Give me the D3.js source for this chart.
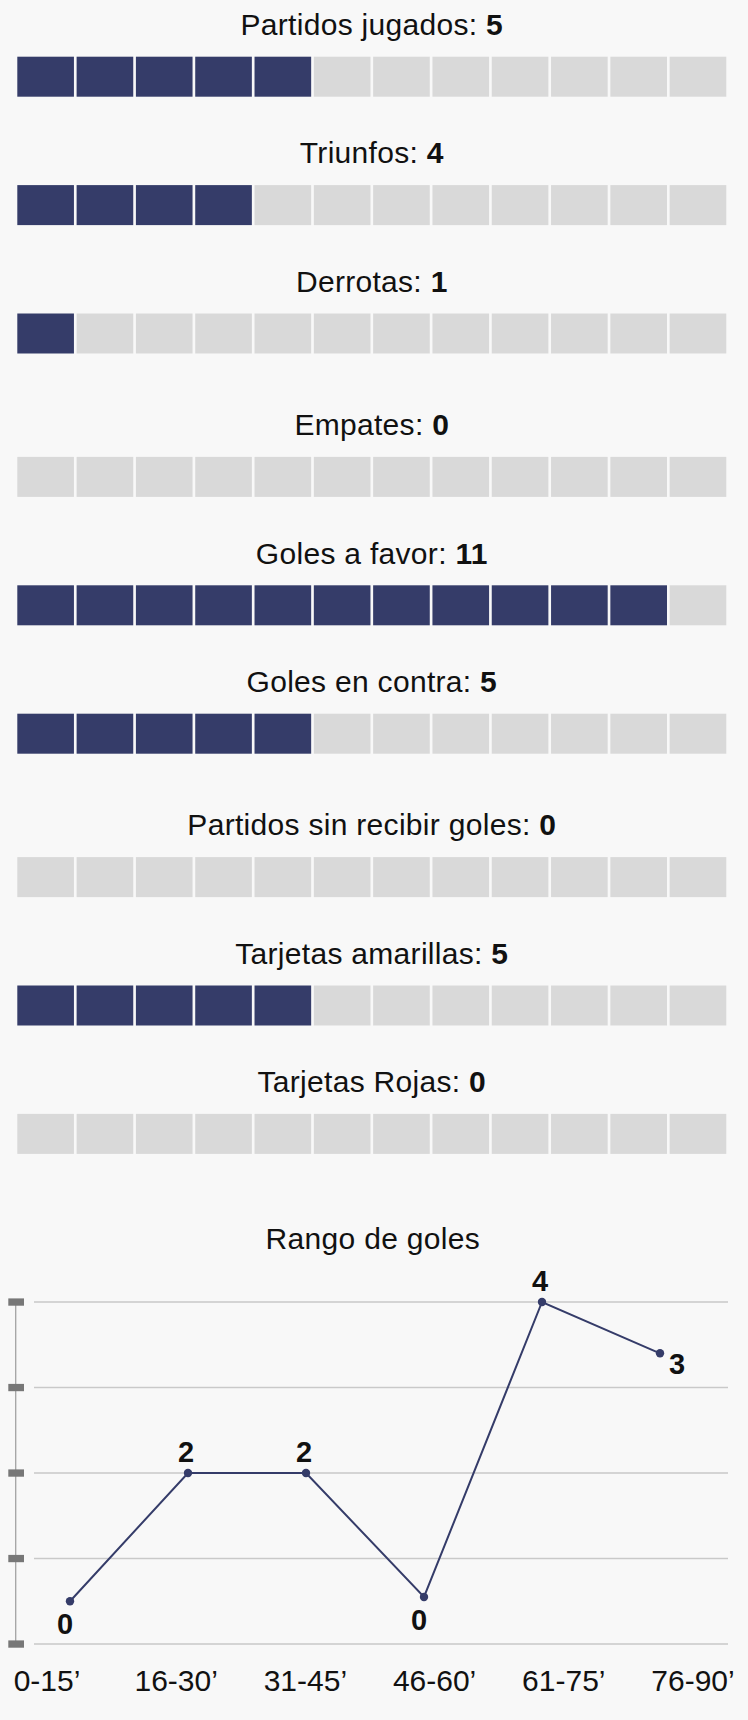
<!DOCTYPE html>
<html>
<head>
<meta charset="utf-8">
<title>Estadísticas</title>
<script src="https://cdnjs.cloudflare.com/ajax/libs/d3/7.8.5/d3.min.js"></script>
<style>
  body {
    margin: 0;
    background: #f8f8f8;
    font-family: "Liberation Sans", Arial, sans-serif;
  }
  svg text {
    fill: #111;
  }
</style>
</head>
<body>
<div id="chart"></div>
<script>
  // stat rows
  var statLabels = ["Partidos jugados", "Triunfos", "Derrotas", "Empates", "Goles a favor",
    "Goles en contra", "Partidos sin recibir goles", "Tarjetas amarillas", "Tarjetas Rojas"];
  var statValues = [5, 4, 1, 0, 11, 5, 0, 5, 0];
  var maxCells = 12;

  // goals per time range
  var ranges = ["0-15\u2019", "16-30\u2019", "31-45\u2019", "46-60\u2019", "61-75\u2019", "76-90\u2019"];
  var goals = [0, 2, 2, 0, 4, 3];
  // height of each dot on the 0-4 grid as drawn in the source (zeros float above the floor)
  var dotLevels = [0.5, 2, 2, 0.55, 4, 3.4];
  var gridTicks = [0, 1, 2, 3, 4];

  var width = 748, height = 1720;
  var dark = "#353c69", light = "#d9d9d9";

  var svg = d3.select("#chart").append("svg")
    .attr("width", width)
    .attr("height", height);

  // ---- waffle rows ----
  var cellX = d3.scaleBand()
    .domain(d3.range(maxCells))
    .range([17.3, 726.3])
    .paddingInner(0.045);

  var rowStep = 128.4, firstTop = 56.7, extraGap = 15;
  var gapBefore = [3, 6];
  function rowTop(i) {
    var extra = gapBefore.filter(function(g) { return g <= i; }).length * extraGap;
    return firstTop + i * rowStep + extra;
  }
  var midX = (cellX.range()[0] + cellX.range()[1]) / 2;

  statLabels.forEach(function(label, i) {
    var top = rowTop(i);
    var g = svg.append("g");

    var t = g.append("text")
      .attr("x", midX)
      .attr("y", top - 21.7)
      .attr("text-anchor", "middle")
      .attr("font-size", "30px")
      .attr("letter-spacing", "0.3px");
    t.append("tspan").text(label + ": ");
    t.append("tspan").attr("font-weight", "bold").text(statValues[i]);

    g.selectAll("rect")
      .data(d3.range(maxCells))
      .enter()
      .append("rect")
      .attr("x", function(d) { return cellX(d); })
      .attr("y", top)
      .attr("width", cellX.bandwidth())
      .attr("height", 40)
      .attr("fill", function(d) { return d < statValues[i] ? dark : light; });
  });

  // ---- Rango de goles ----
  svg.append("text")
    .attr("x", 372.8)
    .attr("y", 1248.9)
    .attr("text-anchor", "middle")
    .attr("font-size", "30px")
    .attr("letter-spacing", "0.3px")
    .text("Rango de goles");

  var y = d3.scaleLinear().domain([0, 4]).range([1644, 1302]);
  var xLabel = d3.scalePoint().domain(ranges).range([47, 693]);
  var xDot = d3.scalePoint().domain(ranges).range([70, 660]);

  var grid = svg.append("g");
  grid.selectAll("line")
    .data(gridTicks)
    .enter()
    .append("line")
    .attr("x1", 34)
    .attr("x2", 728)
    .attr("y1", function(d) { return y(d); })
    .attr("y2", function(d) { return y(d); })
    .attr("stroke", "#c9c9c9")
    .attr("stroke-width", 1.3);

  svg.append("line")
    .attr("x1", 15.7)
    .attr("x2", 15.7)
    .attr("y1", y(0))
    .attr("y2", y(4))
    .attr("stroke", "#a3a3a3")
    .attr("stroke-width", 1.3);

  svg.append("g").selectAll("rect")
    .data(gridTicks)
    .enter()
    .append("rect")
    .attr("x", 8.3)
    .attr("y", function(d) { return y(d) - 3.6; })
    .attr("width", 15.7)
    .attr("height", 7.3)
    .attr("fill", "#777");

  var pts = ranges.map(function(r, i) {
    return { range: r, goals: goals[i], level: dotLevels[i], last: i == ranges.length - 1 };
  });

  var line = d3.line()
    .x(function(d) { return xDot(d.range); })
    .y(function(d) { return y(d.level); });

  svg.append("path")
    .datum(pts)
    .attr("d", line)
    .attr("fill", "none")
    .attr("stroke", dark)
    .attr("stroke-width", 2);

  svg.append("g").selectAll("circle")
    .data(pts)
    .enter()
    .append("circle")
    .attr("cx", function(d) { return xDot(d.range); })
    .attr("cy", function(d) { return y(d.level); })
    .attr("r", 4.2)
    .attr("fill", dark);

  // value labels: zeros under the dot, last one to the right, rest above
  svg.append("g").selectAll("text")
    .data(pts)
    .enter()
    .append("text")
    .attr("x", function(d) {
      var x = xDot(d.range);
      if (d.goals == 0) return x - 5;
      if (d.last) return x + 17;
      return x - 2;
    })
    .attr("y", function(d) {
      var py = y(d.level);
      if (d.goals == 0) return py + 33;
      if (d.last) return py + 21;
      return py - 11;
    })
    .attr("text-anchor", "middle")
    .attr("font-size", "29px")
    .attr("font-weight", "bold")
    .text(function(d) { return d.goals; });

  svg.append("g").selectAll("text")
    .data(ranges)
    .enter()
    .append("text")
    .attr("x", function(d) { return xLabel(d); })
    .attr("y", 1691.4)
    .attr("text-anchor", "middle")
    .attr("font-size", "30px")
    .text(function(d) { return d; });
</script>
</body>
</html>
